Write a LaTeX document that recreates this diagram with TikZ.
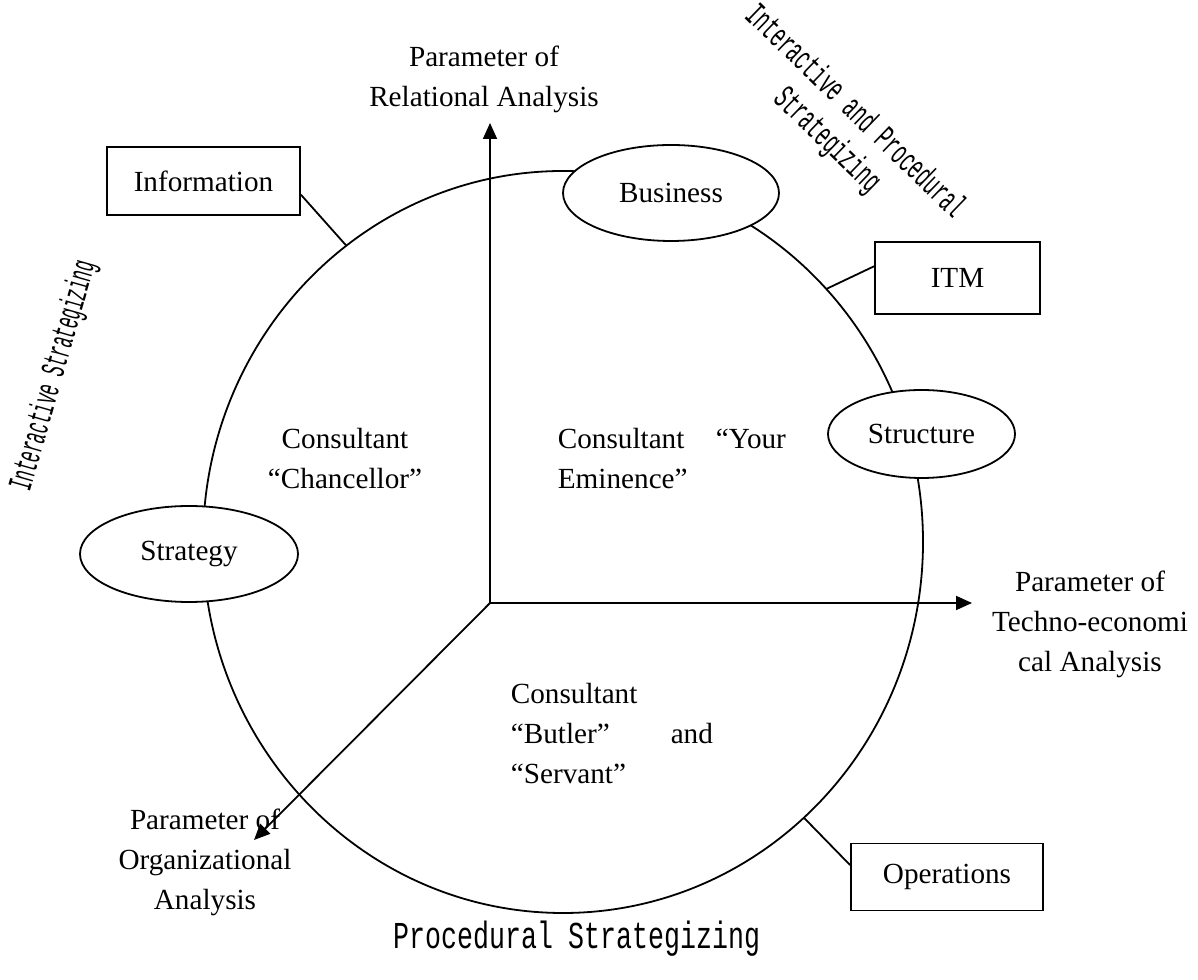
\documentclass[tikz,border=0pt]{standalone}
\usepackage{fontspec}
\usepackage{graphicx}
\setmainfont{Liberation Serif}
\newfontfamily\slabfont{Liberation Mono}
\usetikzlibrary{arrows.meta,shapes.geometric,calc}
\tikzset{
  box/.style={draw,rectangle,fill=white,inner sep=0pt,minimum width=#1,minimum height=34pt},
  oval/.style={draw,ellipse,fill=white,inner sep=0pt,minimum width=#1},
  axis/.style={-{Triangle[length=8pt,width=7pt]}},
  lbl/.style={align=center,inner sep=0pt},
  strat/.style={inner sep=0pt,font=\slabfont}
}
\begin{document}
\begin{tikzpicture}[x=0.5pt,y=0.5pt,line width=0.9pt,font=\fontsize{14.6}{20}\selectfont]
  \useasboundingbox (0,0) rectangle (1198,979);
  % the cycle
  \coordinate (c) at (563,437);
  \draw (c) ellipse [x radius=180pt, y radius=185.5pt];
  \coordinate (pinfo) at ($(c)+(127:180pt and 185.5pt)$);
  \coordinate (pitm) at ($(c)+(43:180pt and 185.5pt)$);
  \coordinate (pops) at ($(c)+(-48:180pt and 185.5pt)$);
  % axes
  \coordinate (o) at (490,376);
  \coordinate (relend) at (490,856);
  \coordinate (tecend) at (972,376);
  \coordinate (orgend) at (254,139);
  \draw[axis] (o) -- (relend);
  \draw[axis] (o) -- (tecend);
  \draw[axis] (o) -- (orgend);
  % stages on the cycle
  \node[oval=108pt, minimum height=48pt] (business) at (671,786) {Business};
  \node[oval=93.5pt, minimum height=44pt] (structure) at (921.5,545) {Structure};
  \node[oval=109pt, minimum height=48pt] (strategy) at (189,425) {Strategy};
  % boxes
  \node[box=96.5pt] (info) at (203.5,798) {Information};
  \node[box=82.5pt, minimum height=36pt] (itm) at (957.5,701) {ITM};
  \node[box=96pt, minimum height=33.5pt] (ops) at (947,102) {Operations};
  \draw (info.-8) -- (pinfo);
  \draw (itm.172) -- (pitm);
  \draw (ops.173) -- (pops);
  % axis labels
  \node[lbl] (rel) at (484,900) {Parameter of\\Relational Analysis};
  \node[lbl] (tec) at (1090,355) {Parameter of\\Techno-economi\\cal Analysis};
  \node[lbl] (org) at (205,117) {Parameter of\\Organizational\\Analysis};
  % consultants
  \node[lbl] (chancellor) at (345,520) {Consultant\\“Chancellor”};
  \node[lbl, anchor=west, text width=114pt, align=left] (eminence) at (557,520) {Consultant\hfill“Your\\Eminence”};
  \node[lbl, anchor=west, text width=101pt, align=left] (butler) at (510,245) {Consultant\\“Butler”\hfill and\\“Servant”};
  % strategizing
  \node[strat, rotate=74] (istrat) at (54,603) {\fontsize{17}{20}\selectfont\scalebox{0.485}[1]{Interactive Strategizing}};
  \node[strat, rotate=-44] (ipstrat) at (840,852) {\fontsize{17}{20}\selectfont\scalebox{0.55}[1]{\begin{tabular}{@{}c@{}}Interactive and Procedural\\Strategizing\end{tabular}}};
  \node[strat] (pstrat) at (577,40) {\fontsize{19}{22}\selectfont\scalebox{0.70}[1]{Procedural Strategizing}};
\end{tikzpicture}
\end{document}
